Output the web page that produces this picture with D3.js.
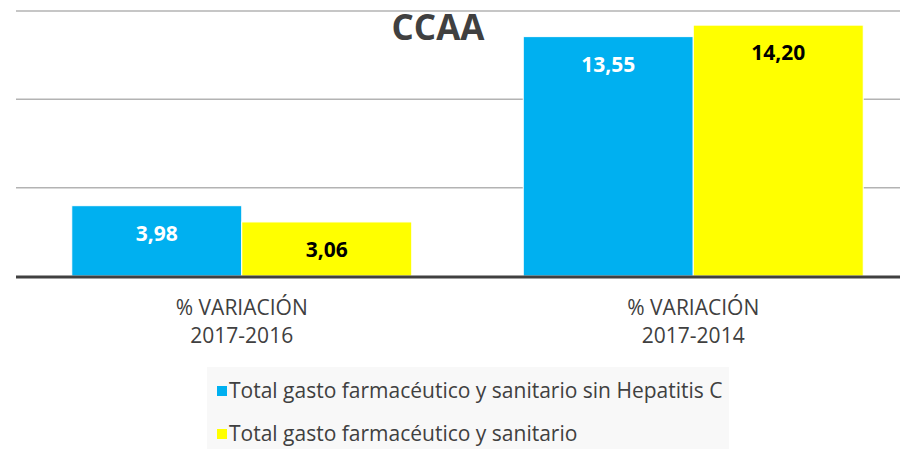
<!DOCTYPE html>
<html>
<head>
<meta charset="utf-8">
<script src="https://cdn.jsdelivr.net/npm/d3@7"></script>
<style>
  body { margin: 0; background: #fff; }
  text { font-family: "Open Sans", sans-serif; }
</style>
</head>
<body>
<div id="viz"></div>
<script>
const categories = [["% VARIACIÓN", "2017-2016"], ["% VARIACIÓN", "2017-2014"]];
const seriesNames = ["Total gasto farmacéutico y sanitario sin Hepatitis C", "Total gasto farmacéutico y sanitario"];
const sinHepatitisC = [3.98, 13.55];
const totalGasto = [3.06, 14.20];
const gridTicks = [5, 10, 15];

document.addEventListener("DOMContentLoaded", () => {
    const width = 900;
    const height = 449;
    const colors = ["#00B0F0", "#FFFF00"];
    const labelColors = ["#ffffff", "#000000"];

    const svg = d3.select("#viz").append("svg")
        .attr("width", width)
        .attr("height", height);

    const rows = categories.map((c, i) => ({ key: i, label: c, values: [sinHepatitisC[i], totalGasto[i]] }));

    const x = d3.scaleBand()
        .domain(rows.map(d => d.key))
        .range([16, 919])
        .padding(0);

    const xSub = d3.scaleBand()
        .domain([0, 1])
        .range([0, x.bandwidth()])
        .paddingInner(0)
        .paddingOuter(0.328);

    const y = d3.scaleLinear()
        .domain([0, 15])
        .range([276, 11]);

    // gridlines
    svg.append("g")
        .selectAll("line")
        .data(gridTicks)
        .enter()
        .append("line")
        .attr("x1", 16)
        .attr("x2", width)
        .attr("y1", d => y(d))
        .attr("y2", d => y(d))
        .attr("stroke", "#b3b3b3")
        .attr("stroke-width", 1.5);

    // title
    svg.append("text")
        .attr("x", 438)
        .attr("y", 40)
        .attr("text-anchor", "middle")
        .attr("font-size", 35)
        .attr("font-weight", "bold")
        .attr("fill", "#404040")
        .text("CCAA");

    const groups = svg.selectAll("g.grp")
        .data(rows)
        .enter()
        .append("g")
        .attr("class", "grp")
        .attr("transform", d => `translate(${x(d.key)},0)`);

    const bars = groups.selectAll("g.bar")
        .data(d => d.values.map((v, j) => ({ j, v })))
        .enter()
        .append("g")
        .attr("class", "bar");

    bars.append("rect")
        .attr("x", d => xSub(d.j))
        .attr("y", d => y(d.v))
        .attr("width", xSub.bandwidth())
        .attr("height", d => y(0) - y(d.v))
        .attr("fill", d => colors[d.j])
        .attr("stroke", "#ffffff")
        .attr("stroke-width", 1);

    bars.append("text")
        .attr("x", d => xSub(d.j) + xSub.bandwidth() / 2)
        .attr("y", d => y(d.v) + 35)
        .attr("text-anchor", "middle")
        .attr("font-size", 21)
        .attr("font-weight", "bold")
        .attr("fill", d => labelColors[d.j])
        .text(d => d3.format(".2f")(d.v).replace(".", ","));

    // baseline
    svg.append("line")
        .attr("x1", 16)
        .attr("x2", width)
        .attr("y1", y(0) + 1)
        .attr("y2", y(0) + 1)
        .attr("stroke", "#404040")
        .attr("stroke-width", 3);

    // category labels
    groups.append("text")
        .attr("x", x.bandwidth() / 2)
        .attr("y", 315)
        .attr("text-anchor", "middle")
        .attr("font-size", 21)
        .attr("fill", "#404040")
        .selectAll("tspan")
        .data(d => d.label)
        .enter()
        .append("tspan")
        .attr("x", x.bandwidth() / 2)
        .attr("dy", (d, i) => i === 0 ? 0 : 28)
        .text(d => d);

    // legend
    const legend = svg.append("g");
    legend.append("rect")
        .attr("x", 207)
        .attr("y", 367)
        .attr("width", 522)
        .attr("height", 82)
        .attr("fill", "#f8f8f8");

    const items = legend.selectAll("g.item")
        .data(seriesNames)
        .enter()
        .append("g")
        .attr("class", "item")
        .attr("transform", (d, i) => `translate(217,${386 + i * 43})`);

    items.append("rect")
        .attr("width", 10)
        .attr("height", 10)
        .attr("fill", (d, i) => colors[i]);

    items.append("text")
        .attr("x", 12)
        .attr("y", 12)
        .attr("font-size", 21)
        .attr("fill", "#404040")
        .text(d => d);
});
</script>
</body>
</html>
